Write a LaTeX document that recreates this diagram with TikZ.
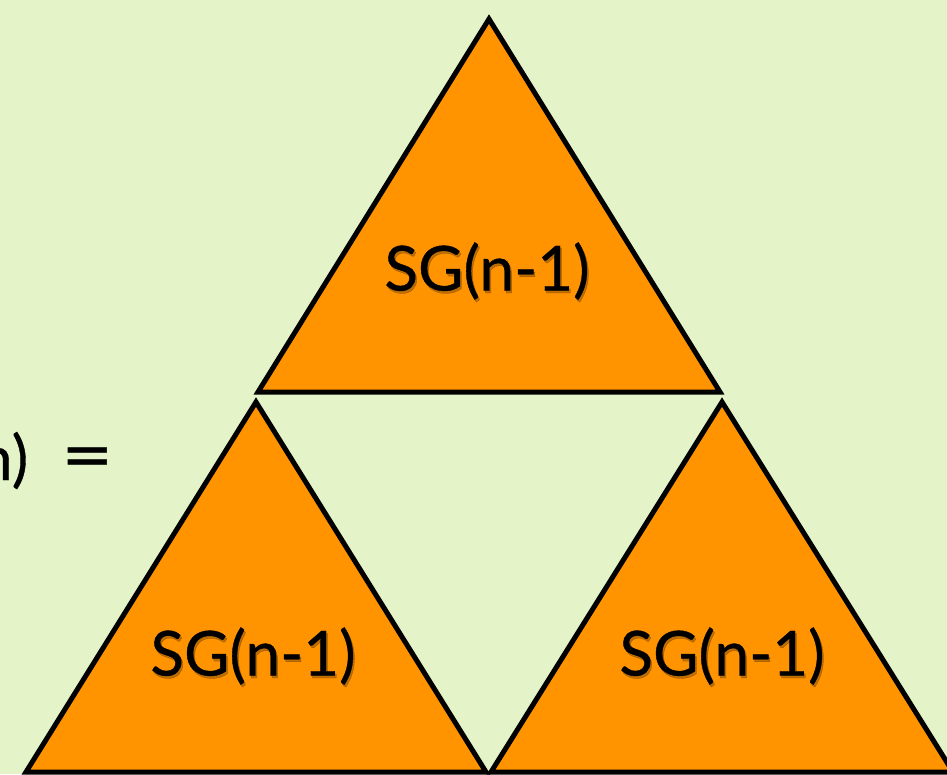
\documentclass[tikz,border=0pt]{standalone}
\usepackage{fontspec}
\setmainfont{Lato}
\newfontfamily\lblfont[FakeBold=0.6]{Lato}
\definecolor{bggreen}{RGB}{228,244,200}
\definecolor{triorange}{RGB}{255,147,0}
\begin{document}
\begin{tikzpicture}[x=1pt,y=-1pt,
  tri/.style={fill=triorange,draw=black,line width=5pt,line join=miter},
  lbl/.style={font=\lblfont\fontsize{62}{70}\selectfont,inner sep=0pt,anchor=center,text=black},
  lblshadow/.style={lbl,text=black,opacity=0.25,xshift=1.5pt,yshift=-2.5pt}]
\useasboundingbox (0,0) rectangle (947,774);
\clip (0,0) rectangle (947,774);
\fill[bggreen] (0,0) rectangle (947,774);
% triangles
\filldraw[tri] (489,19) -- (720,392) -- (258,392) -- cycle;
\filldraw[tri] (256,402) -- (486,772) -- (26,772) -- cycle;
\filldraw[tri] (722,402) -- (953,772) -- (491,772) -- cycle;
% labels
\node[lblshadow] at (487,271) {SG(n-1)};
\node[lbl] (top) at (487,271) {SG(n-1)};
\node[lblshadow] at (253,656) {SG(n-1)};
\node[lbl] (left) at (253,656) {SG(n-1)};
\node[lblshadow] at (722,656) {SG(n-1)};
\node[lbl] (right) at (722,656) {SG(n-1)};
\node[lbl,anchor=base west] (eq) at (-22,480) {n)\hspace{33pt}\scalebox{1.45}[1.15]{=}};
\end{tikzpicture}
\end{document}
